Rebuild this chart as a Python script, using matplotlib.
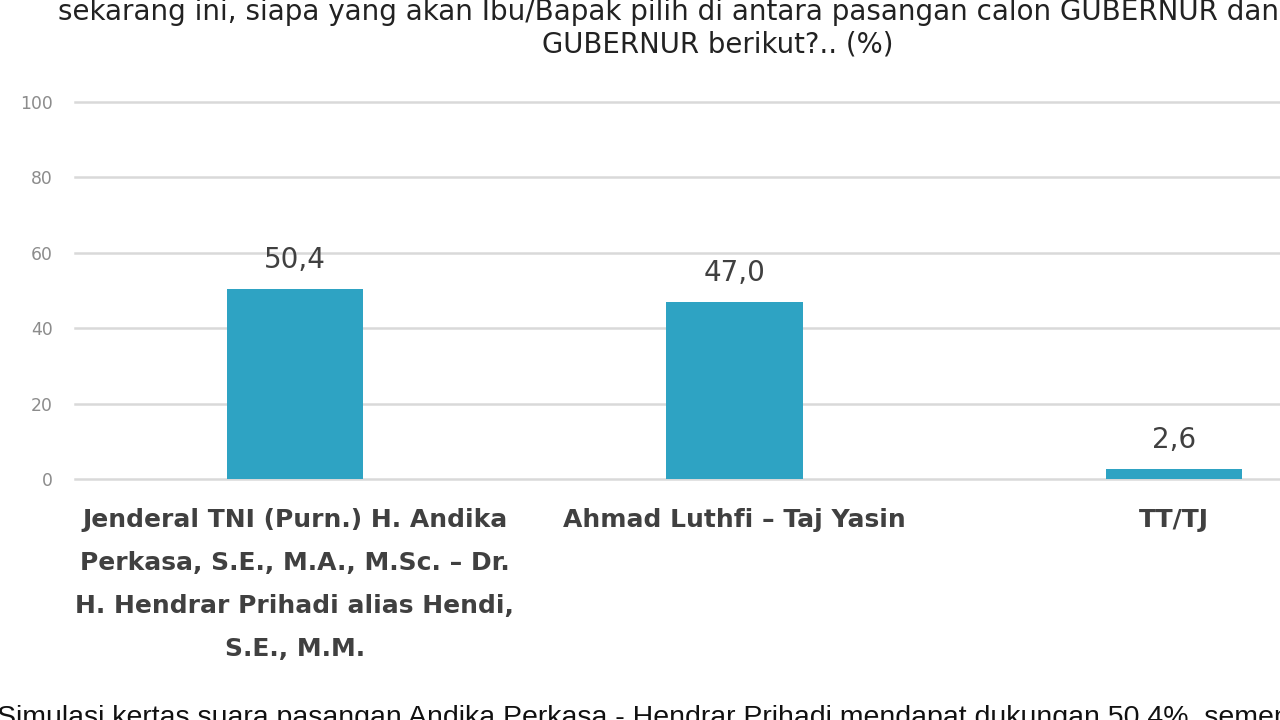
import matplotlib
matplotlib.use("Agg")
import matplotlib.pyplot as plt

categories = [
    "Jenderal TNI (Purn.) H. Andika\nPerkasa, S.E., M.A., M.Sc. – Dr.\nH. Hendrar Prihadi alias Hendi,\nS.E., M.M.",
    "Ahmad Luthfi – Taj Yasin",
    "TT/TJ",
]
values = [50.4, 47.0, 2.6]
value_labels = ["50,4", "47,0", "2,6"]
yticks = [0, 20, 40, 60, 80, 100]

title_line1 = "sekarang ini, siapa yang akan Ibu/Bapak pilih di antara pasangan calon GUBERNUR dan WAKIL"
title_line2 = "GUBERNUR berikut?.. (%)"
footer = ("Simulasi kertas suara pasangan Andika Perkasa - Hendrar Prihadi mendapat dukungan 50,4%, "
          "sementara pasangan Ahmad Luthfi - Taj Yasin 47,0%.")

W, H = 1280, 720
fig = plt.figure(figsize=(12.8, 7.2), dpi=100)
fig.patch.set_facecolor("white")

def fx(px):
    return px / W

def fy(py):
    return 1 - py / H

ax_left, ax_right = 75, 1394
ax_top, ax_bottom = 102, 479
ax = fig.add_axes([fx(ax_left), fy(ax_bottom), fx(ax_right - ax_left), (ax_bottom - ax_top) / H])
ax.set_facecolor("white")

x = list(range(len(categories)))
bar_color = "#2EA3C3"
ax.bar(x, values, width=0.31, color=bar_color, zorder=3)

ax.set_xlim(-0.5, 2.5)
ax.set_ylim(0, 100)
ax.set_yticks(yticks)
ax.set_yticklabels([str(t) for t in yticks], fontsize=12.4, color="#8c8c8c")
ax.tick_params(axis="y", length=0, pad=16)
ax.tick_params(axis="x", length=0, pad=21)
ax.set_xticks(x)
ax.set_xticklabels(categories, fontsize=18, fontweight="bold", color="#404040",
                   linespacing=2.0, va="top")
for s in ax.spines.values():
    s.set_visible(False)
ax.grid(axis="y", color="#d9d9d9", linewidth=1.8, zorder=0)
ax.set_axisbelow(True)
for gl in ax.get_ygridlines():
    gl.set_clip_on(False)

for xi, v, lab in zip(x, values, value_labels):
    ax.annotate(lab, (xi, v), xytext=(0, 11), textcoords="offset points",
                ha="center", va="bottom", fontsize=20, color="#404040")

fig.text(fx(716), fy(12), title_line1, ha="center", va="center", fontsize=20, color="#222222")
fig.text(fx(718), fy(45), title_line2, ha="center", va="center", fontsize=19.8, color="#222222")
fig.text(fx(-3), fy(705), footer, ha="left", va="top", fontsize=20.5, color="#111111",
         family="Liberation Sans")

fig.savefig("out.png", dpi=100, facecolor="white")
